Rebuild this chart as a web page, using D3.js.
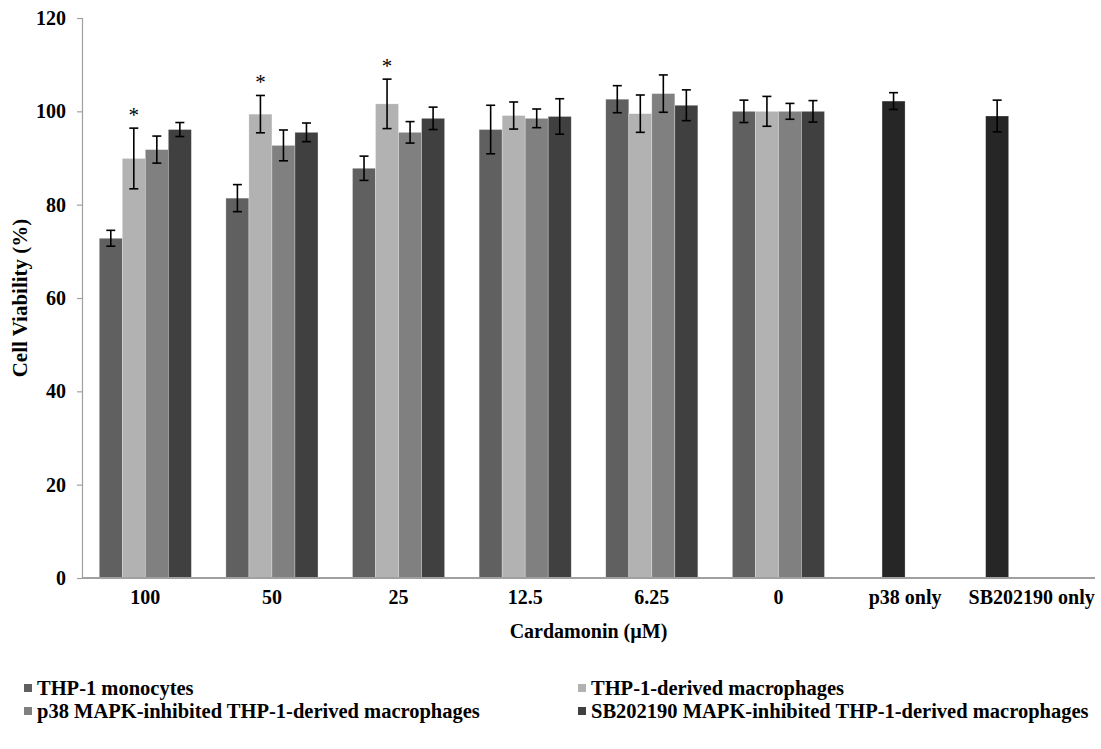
<!DOCTYPE html>
<html>
<head>
<meta charset="utf-8">
<script src="https://cdn.jsdelivr.net/npm/d3@7"></script>
<style>
  html, body { margin: 0; padding: 0; background: #fff; }
  svg { display: block; font-family: "Liberation Serif", "Times New Roman", serif; font-weight: bold; }
</style>
</head>
<body>
<svg id="chart" width="1101" height="749"></svg>
<script>
// Cardamonin concentrations (µM) plus the inhibitor-only controls
const categories = ["100", "50", "25", "12.5", "6.25", "0", "p38 only", "SB202190 only"];

const seriesNames = [
  "THP-1 monocytes",
  "THP-1-derived macrophages",
  "p38 MAPK-inhibited THP-1-derived macrophages",
  "SB202190 MAPK-inhibited THP-1-derived macrophages"
];

// Mean cell viability (%) per series; null = not measured
const monocytes    = [72.8, 81.4, 87.8, 96.1, 102.6, 100, null, 99.0];
const macrophages  = [89.9, 99.4, 101.6, 99.1, 99.5, 100, 102.2, null];
const p38Inhibited = [91.8, 92.7, 95.5, 98.5, 103.8, 100, null, null];
const sbInhibited  = [96.1, 95.5, 98.5, 98.9, 101.3, 100, null, null];

// Standard deviations
const monocytesErr    = [1.7, 2.9, 2.6, 5.2, 2.9, 2.4, null, 3.4];
const macrophagesErr  = [6.5, 4.0, 5.3, 2.9, 4.0, 3.2, 1.8, null];
const p38InhibitedErr = [2.9, 3.3, 2.3, 2.0, 4.0, 1.7, null, null];
const sbInhibitedErr  = [1.5, 2.0, 2.4, 3.8, 3.3, 2.3, null, null];

// Significance markers (THP-1-derived macrophages vs monocytes)
const macrophagesSig = ["*", "*", "*", "", "", "", "", ""];

const yTicks = [0, 20, 40, 60, 80, 100, 120];

// Inhibitor-only controls are drawn in their own shade
const controlCategories = ["p38 only", "SB202190 only"];

const seriesValues = [monocytes, macrophages, p38Inhibited, sbInhibited];
const seriesErrors = [monocytesErr, macrophagesErr, p38InhibitedErr, sbInhibitedErr];
const seriesSig = [null, macrophagesSig, null, null];
const seriesColors = ["#606060", "#b2b2b2", "#808080", "#404040"];
const controlColor = "#262626";

const FONT = "Liberation Serif, Times New Roman, serif";
const svg = d3.select("#chart");
const plot = { left: 82, right: 1095, top: 18, bottom: 578 };

const x = d3.scaleBand().domain(categories).range([plot.left, plot.right]);
// Gap between groups = 150% of a bar width
const gapRatio = 1.5 / (seriesNames.length + 1.5);
const xInner = d3.scaleBand()
  .domain(d3.range(seriesNames.length))
  .range([x.bandwidth() * gapRatio / 2, x.bandwidth() * (1 - gapRatio / 2)]);
const y = d3.scaleLinear().domain([0, 120]).range([plot.bottom, plot.top]);

// Y axis
const yAxis = svg.append("g")
  .attr("transform", `translate(${plot.left},0)`)
  .call(d3.axisLeft(y).tickValues(yTicks).tickSize(5).tickPadding(11).tickFormat(d3.format("d")));
yAxis.select(".domain").attr("stroke", "#a0a0a0").attr("stroke-width", 1.2);
yAxis.selectAll(".tick line").attr("stroke", "#a0a0a0").attr("stroke-width", 1.2);
yAxis.selectAll(".tick text")
  .attr("fill", "#000").attr("font-size", 20).attr("font-weight", "bold")
  .attr("font-family", FONT);

// Bars
const bars = [];
seriesValues.forEach((vals, s) => {
  vals.forEach((v, i) => {
    if (v == null) return;
    bars.push({ s, cat: categories[i], v, err: seriesErrors[s][i], sig: seriesSig[s] ? seriesSig[s][i] : "" });
  });
});

const barG = svg.append("g");
barG.selectAll("rect").data(bars).join("rect")
  .attr("x", d => x(d.cat) + xInner(d.s))
  .attr("width", xInner.bandwidth())
  .attr("y", d => y(d.v))
  .attr("height", d => y(0) - y(d.v))
  .attr("fill", d => controlCategories.includes(d.cat) ? controlColor : seriesColors[d.s])
  .attr("stroke", "rgba(255,255,255,0.45)")
  .attr("stroke-width", 0.6);

// X axis baseline
svg.append("line")
  .attr("x1", plot.left).attr("x2", plot.right)
  .attr("y1", y(0)).attr("y2", y(0))
  .attr("stroke", "#a0a0a0").attr("stroke-width", 2);

// Error bars
const capHalf = 4.5;
const errG = svg.append("g").attr("stroke", "#000").attr("stroke-width", 1.6).attr("fill", "none");
bars.filter(d => d.err != null).forEach(d => {
  const cx = x(d.cat) + xInner(d.s) + xInner.bandwidth() / 2;
  const hi = y(d.v + d.err), lo = y(d.v - d.err);
  errG.append("line").attr("x1", cx).attr("x2", cx).attr("y1", hi).attr("y2", lo);
  errG.append("line").attr("x1", cx - capHalf).attr("x2", cx + capHalf).attr("y1", hi).attr("y2", hi);
  errG.append("line").attr("x1", cx - capHalf).attr("x2", cx + capHalf).attr("y1", lo).attr("y2", lo);
});

// Significance stars above the error bars
svg.append("g").selectAll("text").data(bars.filter(d => d.sig)).join("text")
  .attr("x", d => x(d.cat) + xInner(d.s) + xInner.bandwidth() / 2)
  .attr("y", d => y(d.v + d.err) - 6)
  .attr("text-anchor", "middle")
  .attr("font-size", 21)
  .attr("font-weight", "normal")
  .text(d => d.sig);

// Category labels
svg.append("g").selectAll("text").data(categories).join("text")
  .attr("x", d => x(d) + x.bandwidth() / 2)
  .attr("y", 604)
  .attr("text-anchor", "middle")
  .attr("font-size", 20)
  .text(d => d);

// Axis titles
svg.append("text")
  .attr("x", (plot.left + plot.right) / 2).attr("y", 638)
  .attr("text-anchor", "middle").attr("font-size", 20)
  .text("Cardamonin (µM)");

svg.append("text")
  .attr("transform", `translate(27,${(plot.top + plot.bottom) / 2}) rotate(-90)`)
  .attr("text-anchor", "middle").attr("font-size", 21)
  .text("Cell Viability (%)");

// Legend: two columns, two rows
const legendPos = [[24, 695], [578, 695], [24, 718], [578, 718]];
const legend = svg.append("g").selectAll("g").data(seriesNames).join("g")
  .attr("transform", (d, i) => `translate(${legendPos[i][0]},${legendPos[i][1]})`);
legend.append("rect")
  .attr("x", 0).attr("y", -11).attr("width", 8).attr("height", 8)
  .attr("fill", (d, i) => seriesColors[i]);
legend.append("text")
  .attr("x", 13).attr("y", 0)
  .attr("font-size", 20.5)
  .text(d => d);
</script>
</body>
</html>
